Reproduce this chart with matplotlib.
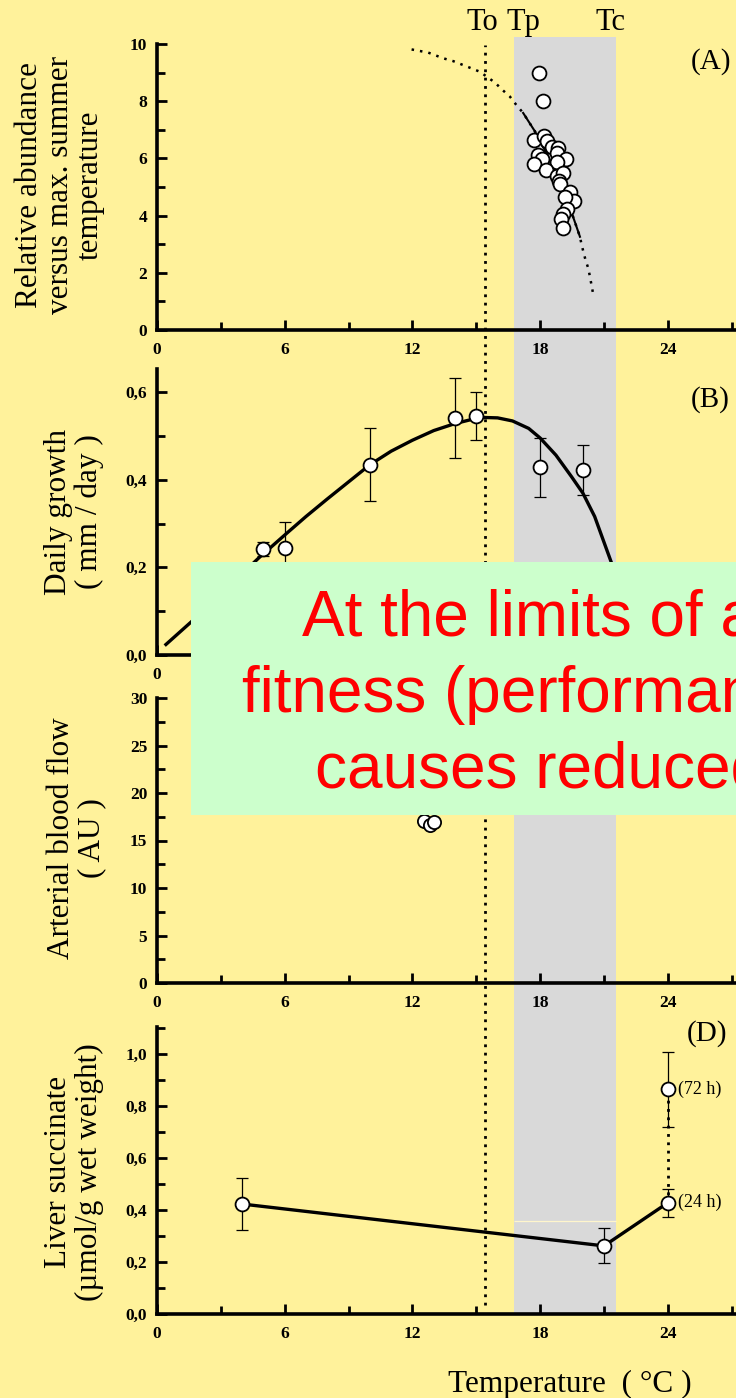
import matplotlib
matplotlib.use("Agg")
import matplotlib.pyplot as plt
from matplotlib.patches import Rectangle
from matplotlib.ticker import MultipleLocator

# ---------------------------------------------------------------- data
# (A) relative abundance versus max. summer temperature
abund_temp = [17.94, 18.13, 17.72, 18.19, 18.30, 18.54, 18.85, 18.77, 17.91,
              18.07, 17.71, 19.21, 18.77, 18.26, 18.80, 19.08, 18.90, 18.92,
              19.40, 19.60, 19.16, 19.27, 19.05, 19.00, 19.05]
abund_val = [9.00, 8.00, 6.63, 6.78, 6.61, 6.41, 6.35, 6.18, 6.12,
             5.98, 5.79, 5.98, 5.89, 5.59, 5.40, 5.48, 5.21, 5.10,
             4.84, 4.51, 4.66, 4.23, 4.05, 3.88, 3.58]
abund_fit_temp = [11.96, 12.74, 13.45, 13.92, 14.70, 15.17, 15.88, 16.19, 16.58,
                  16.90, 17.20, 17.75, 18.30, 18.80, 19.30, 19.55, 19.87, 19.95,
                  20.13, 20.26, 20.34, 20.49]
abund_fit_val = [9.81, 9.70, 9.50, 9.40, 9.17, 9.03, 8.65, 8.42, 8.16,
                 7.85, 7.59, 6.95, 6.18, 5.38, 4.48, 3.95, 3.26, 2.97,
                 2.45, 2.16, 1.86, 1.26]
abund_fit_solid = (17.20, 19.87)   # temperature range drawn as a solid line

# (B) daily growth
growth_temp = [5, 6, 10, 14, 15, 18, 20]
growth_val = [0.241, 0.243, 0.434, 0.541, 0.545, 0.428, 0.422]
growth_err = [0.016, 0.060, 0.083, 0.092, 0.055, 0.067, 0.057]
growth_fit_temp = [0.42, 1.71, 3.20, 4.77, 6.10, 7.00, 8.00, 9.00, 10.00, 11.00,
                   12.00, 13.00, 14.00, 15.00, 15.30, 16.00, 16.70, 17.46, 18.00,
                   18.74, 19.47, 20.01, 20.56, 21.33]
growth_fit_val = [0.024, 0.080, 0.148, 0.221, 0.278, 0.316, 0.356, 0.395, 0.434, 0.465,
                  0.490, 0.512, 0.528, 0.540, 0.542, 0.541, 0.534, 0.517, 0.495,
                  0.456, 0.407, 0.369, 0.316, 0.213]

# (C) arterial blood flow
blood_temp = [12.54, 12.82, 13.03]
blood_val = [17.1, 16.6, 16.9]

# (D) liver succinate
succ_temp = [4, 21, 24]
succ_val = [0.423, 0.262, 0.428]
succ_err = [0.100, 0.067, 0.054]
succ72_temp = 24
succ72_val = 0.864
succ72_err = 0.145

# thermal thresholds
t_opt = 15.4
band_lo, band_hi = 16.75, 21.55

x_major = [0, 6, 12, 18, 24]

# ---------------------------------------------------------------- style
BG = "#FFF29B"
BAND = "#D9D9D9"
GREEN = "#CCFFCC"
SERIF = ["Liberation Serif", "DejaVu Serif"]
plt.rcParams["font.family"] = SERIF

W_PX, H_PX = 736, 1398
fig = plt.figure(figsize=(W_PX / 100, H_PX / 100), dpi=100, facecolor=BG)

XMAX = 27.2
LEFT = 157 / W_PX
WIDTH = (W_PX - 157) / W_PX


def fy(px):
    return 1 - px / H_PX


def make_axes(top_px, bottom_px):
    ax = fig.add_axes([LEFT, fy(bottom_px), WIDTH, (bottom_px - top_px) / H_PX])
    ax.patch.set_visible(False)
    return ax


# shared background: thermal band and dotted T_opt line running through all panels
ax_bg = fig.add_axes([LEFT, fy(1314), WIDTH, (1314 - 37) / H_PX], zorder=-1)
ax_bg.patch.set_visible(False)
ax_bg.set_xlim(0, XMAX)
ax_bg.set_ylim(0, 1)
ax_bg.axis("off")
ax_bg.axvspan(band_lo, band_hi, color=BAND, lw=0)
ax_bg.axvline(t_opt, ymin=0.007, ymax=0.994, color="black", lw=2.0,
              linestyle=(0, (1, 2.0)))


def style(ax, ylim, yticks, ylabels, yminor, xlabels=None):
    ax.set_xlim(0, XMAX)
    ax.set_ylim(*ylim)
    for s in ("top", "right"):
        ax.spines[s].set_visible(False)
    for s in ("left", "bottom"):
        ax.spines[s].set_linewidth(2.6)
    if xlabels is None:
        xlabels = [str(v) for v in x_major]
    ax.set_xticks(x_major, labels=xlabels, fontweight="bold", fontsize=12.5)
    ax.set_yticks(yticks, labels=ylabels, fontweight="bold", fontsize=12.5)
    ax.xaxis.set_minor_locator(MultipleLocator(3))
    ax.yaxis.set_minor_locator(MultipleLocator(yminor))
    ax.tick_params(which="major", direction="in", length=7.2, width=2.0)
    ax.tick_params(which="minor", direction="in", length=6.0, width=2.0)
    ax.tick_params(axis="x", which="major", pad=8.5)
    ax.tick_params(axis="y", which="major", pad=7)


def comma(v):
    return f"{v:.1f}".replace(".", ",")


MK = dict(marker="o", mfc="white", mec="black", mew=1.3, ls="none")
EB = dict(ecolor="black", elinewidth=0.9, capsize=4.4, capthick=0.9)

# ---------------------------------------------------------------- (A)
axA = make_axes(44, 330)
style(axA, (0, 10), [0, 2, 4, 6, 8, 10], ["0", "2", "4", "6", "8", "10"], 1)
axA.plot(abund_fit_temp, abund_fit_val, color="black", lw=1.8,
         linestyle=(0, (1, 2.4)), zorder=2)
solid_t = [t for t in abund_fit_temp if abund_fit_solid[0] <= t <= abund_fit_solid[1]]
solid_v = [v for t, v in zip(abund_fit_temp, abund_fit_val)
           if abund_fit_solid[0] <= t <= abund_fit_solid[1]]
axA.plot(solid_t, solid_v, color="black", lw=1.5, zorder=2)
axA.plot(abund_temp, abund_val, ms=10, zorder=3, **MK)

# ---------------------------------------------------------------- (B)
axB = make_axes(369, 655)
# only the first x label sits outside the callout box
style(axB, (0, 0.6525), [0, 0.2, 0.4, 0.6],
      [comma(v) for v in (0, 0.2, 0.4, 0.6)], 0.1,
      xlabels=["0", "", "", "", ""])
axB.plot(growth_fit_temp, growth_fit_val, color="black", lw=2.4, zorder=2)
axB.errorbar(growth_temp, growth_val, yerr=growth_err, fmt="none", zorder=1, **EB)
axB.plot(growth_temp, growth_val, ms=10, zorder=3, **MK)

# ---------------------------------------------------------------- (C)
axC = make_axes(698, 983)
style(axC, (0, 30), [0, 5, 10, 15, 20, 25, 30],
      ["0", "5", "10", "15", "20", "25", "30"], 2.5)
for t, v in zip(blood_temp, blood_val):
    axC.plot([t], [v], ms=9.5, zorder=3, **MK)

# ---------------------------------------------------------------- (D)
axD = make_axes(1027, 1314)
style(axD, (0, 1.104), [0, 0.2, 0.4, 0.6, 0.8, 1.0],
      [comma(v) for v in (0, 0.2, 0.4, 0.6, 0.8, 1.0)], 0.1)
axD.hlines(0.357, band_lo, band_hi, color="#FFF6CC", lw=0.9, zorder=0.5)
axD.plot(succ_temp, succ_val, color="black", lw=2.4, zorder=2)
axD.plot([succ72_temp, succ72_temp], [succ_val[-1], succ72_val], color="black",
         lw=2.0, linestyle=(0, (1, 2.0)), zorder=2)
axD.errorbar(succ_temp, succ_val, yerr=succ_err, fmt="none", zorder=1, **EB)
axD.errorbar([succ72_temp], [succ72_val], yerr=[succ72_err], fmt="none", zorder=1, **EB)
axD.plot(succ_temp, succ_val, ms=10, zorder=3, **MK)
axD.plot([succ72_temp], [succ72_val], ms=10, zorder=3, **MK)
axD.annotate("(72 h)", (succ72_temp, succ72_val), xytext=(7, 0),
             textcoords="offset points", va="center", ha="left", fontsize=13)
axD.annotate("(24 h)", (succ_temp[-1], succ_val[-1]), xytext=(7, 0),
             textcoords="offset points", va="center", ha="left", fontsize=13)

# ---------------------------------------------------------------- labels
for txt, xp, yp in (("(A)", 711, 62), ("(B)", 710, 400), ("(D)", 707, 1034)):
    fig.text(xp / W_PX, fy(yp), txt, ha="center", va="center", fontsize=21)

for txt, xp in (("To", 482), ("Tp", 523), ("Tc", 611)):
    fig.text(xp / W_PX, fy(30), txt, ha="center", va="baseline", fontsize=22)

ylabels = (
    ("Relative abundance\nversus max. summer\ntemperature", 60, 185),
    ("Daily growth\n( mm / day )", 74, 512),
    ("Arterial blood flow\n( AU )", 77, 838),
    ("Liver succinate\n(\u00b5mol/g wet weight)", 74, 1172),
)
for txt, xp, yp in ylabels:
    fig.text(xp / W_PX, fy(yp), txt, rotation=90, ha="center", va="center",
             multialignment="center", fontsize=22.5, linespacing=1.05)

fig.text(570 / W_PX, fy(1392), "Temperature  ( \u00b0C )", ha="center",
         va="baseline", fontsize=22.5)

# ---------------------------------------------------------------- callout
box = Rectangle((191 / W_PX, fy(815)), 1.0, (815 - 562) / H_PX,
                transform=fig.transFigure, facecolor=GREEN, edgecolor="none",
                zorder=10)
fig.add_artist(box)
callout = (
    ("At the limits of a", 302, 635),
    ("fitness (performan", 242, 712),
    ("causes reduced", 315, 788),
)
for txt, xp, yp in callout:
    t = fig.text(xp / W_PX, fy(yp), txt, ha="left", va="baseline", fontsize=46,
                 color="#FF0000", family=["Liberation Sans", "DejaVu Sans"],
                 zorder=11)
    t.set_clip_path(box)

fig.savefig("out.png", dpi=100, facecolor=BG)
